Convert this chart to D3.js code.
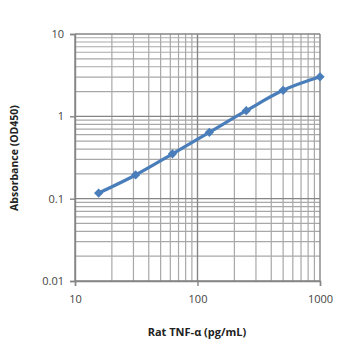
<!DOCTYPE html>
<html><head><meta charset="utf-8">
<script src="https://cdn.jsdelivr.net/npm/d3@7"></script>
<style>body{margin:0;background:#fff}svg{display:block}</style>
</head><body><svg id="c" width="358" height="358"></svg>
<script>
const concentrations = [15.6, 31.25, 62.5, 125, 250, 500, 1000];
const absorbance = [0.117, 0.194, 0.35, 0.64, 1.17, 2.07, 3.02];
const xTickValues = [10, 100, 1000];
const yTickValues = [0.01, 0.1, 1, 10];
const xTitle = "Rat TNF-α (pg/mL)";
const yTitle = "Absorbance (OD450)";

const svg = d3.select("#c");
const L = 75, R = 320, T = 34, B = 281;
const x = d3.scaleLog().domain([10, 1000]).range([L, R]);
const y = d3.scaleLog().domain([0.01, 10]).range([B, T]);

const minorX = [];
for (let d = 10; d < 1000; d *= 10) for (let k = 2; k <= 9; k++) minorX.push(d * k);
const minorY = [];
for (let d = 0.01; d < 9; d *= 10) for (let k = 2; k <= 9; k++) minorY.push(+(d * k).toPrecision(3));

const g = svg.append("g");
g.selectAll(".mx").data(minorX).enter().append("line")
  .attr("x1", d => x(d)).attr("x2", d => x(d)).attr("y1", T).attr("y2", B)
  .attr("stroke", "#a8a8a8").attr("stroke-width", 1.2);
g.selectAll(".my").data(minorY).enter().append("line")
  .attr("y1", d => y(d)).attr("y2", d => y(d)).attr("x1", L).attr("x2", R)
  .attr("stroke", "#a8a8a8").attr("stroke-width", 1.2);
g.selectAll(".Mx").data(xTickValues).enter().append("line")
  .attr("x1", d => x(d)).attr("x2", d => x(d)).attr("y1", T).attr("y2", B)
  .attr("stroke", "#858585").attr("stroke-width", 1.4);
g.selectAll(".My").data(yTickValues).enter().append("line")
  .attr("y1", d => y(d)).attr("y2", d => y(d)).attr("x1", L).attr("x2", R)
  .attr("stroke", "#858585").attr("stroke-width", 1.4);

const xAxis = svg.append("g").attr("transform", `translate(0,${B})`)
  .call(d3.axisBottom(x).tickValues(xTickValues).tickFormat(d3.format("d")).tickSize(5).tickPadding(9));
const yAxis = svg.append("g").attr("transform", `translate(${L},0)`)
  .call(d3.axisLeft(y).tickValues(yTickValues).tickFormat(d => String(d)).tickSize(5).tickPadding(6));
[xAxis, yAxis].forEach(a => {
  a.selectAll("path,line").attr("stroke", "#858585").attr("stroke-width", 1.4);
  a.selectAll("text").attr("fill", "#444").attr("font-family", "Open Sans, sans-serif").attr("font-size", 11);
});

const line = d3.line().x((d, i) => x(concentrations[i])).y(d => y(d)).curve(d3.curveMonotoneX);
svg.append("path").datum(absorbance).attr("d", line)
  .attr("fill", "none").attr("stroke", "#4a7ebb").attr("stroke-width", 3.2);
svg.selectAll(".pt").data(absorbance).enter().append("path")
  .attr("transform", (d, i) => `translate(${x(concentrations[i])},${y(d)})`)
  .attr("d", d3.symbol(d3.symbolDiamond2, 55)).attr("fill", "#4a7ebb");

svg.append("text").attr("x", 197).attr("y", 336).attr("text-anchor", "middle")
  .attr("font-family", "Open Sans, sans-serif").attr("font-weight", "bold").attr("font-size", 11)
  .attr("fill", "#222").text(xTitle);
svg.append("text").attr("transform", "translate(18,158) rotate(-90)").attr("text-anchor", "middle")
  .attr("font-family", "Open Sans, sans-serif").attr("font-weight", "bold").attr("font-size", 10.5)
  .attr("fill", "#222").text(yTitle);
</script></body></html>
